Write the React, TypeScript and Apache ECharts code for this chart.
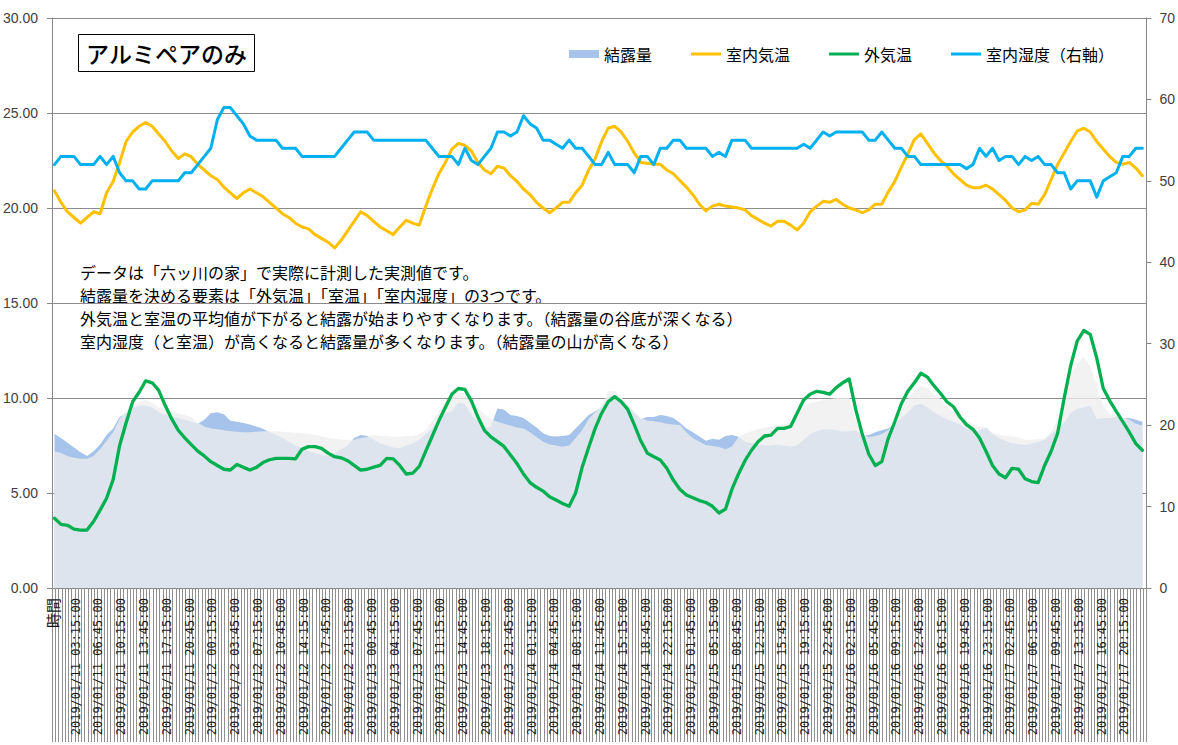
import React, { useEffect, useRef } from "react";
import * as echarts from "echarts";

// ---- categories (header cell + 15-minute timestamps, 2019/01/11 00:00 – 2019/01/17 23:30)
const pad = (n: number) => (n < 10 ? "0" + n : "" + n);
const categories: string[] = ["時間"];
for (let i = 0; i < 671; i++) {
  const day = 11 + Math.floor(i / 96);
  const mins = (i % 96) * 15;
  categories.push(`2019/01/${pad(day)} ${pad(Math.floor(mins / 60))}:${pad(mins % 60)}:00`);
}

// ---- hourly readings (one value per hour, starting 2019/01/11 00:00)
const indoorHumidity = [
  52, 53, 53, 53, 52, 52, 52, 53, 52, 53,
  51, 50, 50, 49, 49, 50, 50, 50, 50, 50,
  51, 51, 52, 53, 54, 57.5, 59, 59, 58, 57,
  55.5, 55, 55, 55, 55, 54, 54, 54, 53, 53,
  53, 53, 53, 53, 54, 55, 56, 56, 56, 55,
  55, 55, 55, 55, 55, 55, 55, 55, 54, 53,
  53, 53, 52, 54, 52.5, 52, 53, 54, 56, 56,
  55.5, 56, 58, 57, 56.5, 55, 55, 54.5, 54, 55,
  54, 54, 53, 52, 52, 53.5, 52, 52, 52, 51,
  53, 53, 52, 54, 54, 55, 55, 54, 54, 54,
  54, 53, 53.5, 53, 55, 55, 55, 54, 54, 54,
  54, 54, 54, 54, 54, 54.5, 54, 55, 56, 55.5,
  56, 56, 56, 56, 56, 55, 55, 56, 55, 54,
  54, 53, 53, 52, 52, 52, 52, 52, 52, 52,
  51.5, 52, 54, 53, 54, 52.5, 53, 53, 52, 53,
  52.5, 53, 52, 52, 51, 51, 49, 50, 50, 50,
  48, 50, 50.5, 51, 53, 53, 54, 54,
];

const indoorTemp = [
  20.9, 20.3, 19.8, 19.5, 19.2, 19.5, 19.8, 19.7, 20.8, 21.4,
  22.4, 23.5, 24.0, 24.3, 24.5, 24.3, 23.9, 23.5, 23.0, 22.6,
  22.85, 22.7, 22.3, 22.0, 21.7, 21.5, 21.1, 20.8, 20.5, 20.8,
  21.0, 20.8, 20.6, 20.3, 20.0, 19.7, 19.5, 19.2, 19.0, 18.9,
  18.6, 18.4, 18.2, 17.9, 18.3, 18.8, 19.3, 19.8, 19.6, 19.3,
  19.0, 18.8, 18.6, 19.0, 19.35, 19.2, 19.1, 20.1, 21.0, 21.8,
  22.4, 23.1, 23.4, 23.3, 23.0, 22.4, 22.0, 21.8, 22.2, 22.1,
  21.7, 21.4, 21.0, 20.7, 20.3, 20.0, 19.75, 20.0, 20.3, 20.3,
  20.8, 21.2, 22.0, 22.6, 23.5, 24.2, 24.3, 24.0, 23.5, 22.9,
  22.4, 22.35, 22.3, 22.3, 22.0, 21.8, 21.45, 21.1, 20.7, 20.2,
  19.85, 20.1, 20.2, 20.1, 20.05, 20.0, 19.9, 19.6, 19.4, 19.2,
  19.05, 19.3, 19.3, 19.1, 18.85, 19.2, 19.8, 20.1, 20.35, 20.3,
  20.45, 20.2, 20.0, 19.9, 19.75, 19.9, 20.2, 20.2, 20.85, 21.4,
  22.15, 22.85, 23.6, 23.9, 23.4, 22.9, 22.5, 22.2, 21.8, 21.5,
  21.2, 21.07, 21.07, 21.2, 21.0, 20.7, 20.4, 20.0, 19.8, 19.9,
  20.25, 20.2, 20.7, 21.5, 22.3, 22.9, 23.5, 24.05, 24.2, 24.0,
  23.5, 23.1, 22.7, 22.4, 22.3, 22.4, 22.1, 21.7,
];

const outdoorTemp = [
  3.67, 3.35, 3.3, 3.1, 3.05, 3.05, 3.5, 4.1, 4.72, 5.7,
  7.5, 8.7, 9.8, 10.3, 10.9, 10.8, 10.4, 9.6, 8.9, 8.3,
  7.9, 7.55, 7.2, 6.95, 6.65, 6.45, 6.25, 6.21, 6.5, 6.35,
  6.21, 6.35, 6.6, 6.75, 6.82, 6.82, 6.82, 6.8, 7.3, 7.44,
  7.44, 7.35, 7.1, 6.91, 6.85, 6.7, 6.45, 6.2, 6.25, 6.36,
  6.45, 6.82, 6.8, 6.45, 6.0, 6.05, 6.4, 7.2, 8.0, 8.8,
  9.5, 10.2, 10.5, 10.45, 9.85, 9.0, 8.3, 7.95, 7.7, 7.45,
  7.0, 6.55, 6.0, 5.55, 5.3, 5.1, 4.8, 4.63, 4.45, 4.3,
  5.0, 6.35, 7.4, 8.4, 9.2, 9.8, 10.07, 9.8, 9.4, 8.6,
  7.75, 7.1, 6.91, 6.74, 6.3, 5.68, 5.2, 4.9, 4.75, 4.6,
  4.5, 4.3, 3.95, 4.15, 5.2, 6.0, 6.7, 7.25, 7.7, 8.0,
  8.05, 8.4, 8.4, 8.5, 9.2, 9.89, 10.2, 10.35, 10.3, 10.2,
  10.55, 10.8, 11.0, 9.4, 8.1, 7.05, 6.45, 6.65, 7.88, 8.75,
  9.7, 10.35, 10.8, 11.3, 11.1, 10.65, 10.25, 9.8, 9.54, 9.0,
  8.6, 8.35, 7.9, 7.2, 6.45, 6.0, 5.8, 6.3, 6.25, 5.75,
  5.6, 5.55, 6.45, 7.2, 8.15, 10.0, 11.7, 13.0, 13.55, 13.35,
  12.1, 10.5, 9.85, 9.3, 8.75, 8.2, 7.6, 7.25,
];

const condensation = [
  8.1, 7.9, 7.65, 7.4, 7.15, 6.95, 7.2, 7.55, 8.05, 8.4,
  9.0, 9.2, 9.45, 9.6, 9.6, 9.5, 9.25, 9.1, 9.0, 8.95,
  8.85, 8.75, 8.65, 8.85, 9.2, 9.25, 9.15, 8.8, 8.75, 8.68,
  8.6, 8.5, 8.38, 8.2, 8.05, 7.9, 7.7, 7.5, 7.35, 7.2,
  7.1, 7.0, 6.95, 7.1, 7.3, 7.5, 7.9, 8.05, 8.0, 7.8,
  7.6, 7.5, 7.4, 7.35, 7.5, 7.6, 7.8, 8.1, 8.4, 8.9,
  9.2, 9.3, 9.75, 9.7, 9.1, 8.75, 8.4, 8.5, 9.45, 9.4,
  9.1, 9.05, 8.95, 8.7, 8.45, 8.15, 8.0, 7.97, 8.0, 8.05,
  8.4, 8.75, 9.1, 9.3, 9.5, 10.05, 10.15, 9.95, 9.6, 9.2,
  8.9, 9.0, 9.0, 9.1, 9.05, 8.95, 8.7, 8.4, 8.2, 7.97,
  7.75, 7.85, 7.8, 8.0, 8.05, 7.96, 7.7, 7.6, 7.55, 7.5,
  7.5, 7.55, 7.5, 7.45, 7.5, 7.8, 8.1, 8.25, 8.35, 8.35,
  8.3, 8.25, 8.25, 8.3, 8.0, 8.05, 8.2, 8.3, 8.4, 8.6,
  8.95, 9.25, 9.6, 9.7, 9.5, 9.25, 9.05, 8.9, 8.75, 8.6,
  8.4, 8.25, 8.3, 8.45, 8.1, 7.9, 7.75, 7.62, 7.58, 7.53,
  7.6, 7.68, 7.8, 8.1, 8.35, 8.7, 9.2, 9.45, 9.5, 9.6,
  8.9, 8.95, 8.95, 9.0, 8.95, 8.95, 8.85, 8.75,
];

// second (unlabelled) translucent area drawn over 結露量
const overlayArea = [
  7.2, 7.1, 6.95, 6.85, 6.8, 6.8, 6.95, 7.3, 7.75, 8.2,
  8.9, 9.35, 9.6, 9.8, 9.9, 9.75, 9.5, 9.4, 9.3, 9.2,
  9.1, 9.0, 8.7, 8.5, 8.4, 8.35, 8.3, 8.25, 8.22, 8.2,
  8.2, 8.22, 8.25, 8.25, 8.25, 8.22, 8.2, 8.17, 8.14, 8.1,
  8.05, 8.0, 7.9, 7.85, 7.8, 7.8, 7.8, 7.9, 7.95, 8.05,
  8.0, 8.0, 7.95, 7.95, 8.0, 8.0, 8.1, 8.3, 8.8, 9.3,
  9.8, 10.1, 10.3, 10.25, 9.75, 9.5, 9.15, 8.9, 8.75, 8.65,
  8.55, 8.45, 8.4, 8.2, 7.95, 7.7, 7.55, 7.5, 7.44, 7.5,
  7.9, 8.3, 8.9, 9.25, 9.6, 10.35, 10.4, 10.05, 9.7, 9.3,
  8.95, 8.82, 8.78, 8.72, 8.65, 8.6, 8.58, 8.2, 7.88, 7.7,
  7.53, 7.48, 7.42, 7.3, 7.45, 7.95, 8.15, 8.25, 8.35, 8.45,
  8.5, 8.55, 8.6, 8.7, 9.0, 9.5, 9.75, 9.8, 9.9, 9.95,
  10.0, 10.05, 10.0, 8.9, 8.05, 7.95, 8.0, 8.1, 8.3, 8.65,
  9.3, 9.95, 10.4, 10.65, 10.5, 10.2, 9.95, 9.55, 9.25, 9.0,
  8.8, 8.65, 8.5, 8.42, 8.2, 8.07, 8.0, 7.97, 7.92, 7.8,
  7.8, 7.83, 7.85, 8.2, 8.9, 10.1, 11.2, 11.8, 12.15, 11.7,
  10.6, 9.6, 9.15, 9.05, 9.0, 8.85, 8.65, 8.55,
];

const leftTicks = { min: 0, max: 30, interval: 5 };
const rightTicks = { min: 0, max: 70, interval: 10 };

const noteLines = [
  "データは「六ッ川の家」で実際に計測した実測値です。",
  "結露量を決める要素は「外気温」「室温」「室内湿度」の3つです。",
  "外気温と室温の平均値が下がると結露が始まりやすくなります。（結露量の谷底が深くなる）",
  "室内湿度（と室温）が高くなると結露量が多くなります。（結露量の山が高くなる）",
];
const titleText = "アルミペアのみ";

// hour h -> category index (header occupies index 0, 4 readings per hour)
const toPoints = (arr: number[]) => arr.map((v, h) => [1 + h * 4, v]);

const JP = "Noto Sans CJK JP";

export default function App() {
  const ref = useRef<HTMLDivElement>(null);
  useEffect(() => {
    if (!ref.current) return;
    const chart = echarts.init(ref.current, undefined, { renderer: "svg" });
    const axisGray = "#868686";
    const lineIcon = "path://M0,0H30V3H0Z";
    const option: any = {
      animation: false,
      backgroundColor: "#ffffff",
      grid: { left: 52, right: 30, top: 18, bottom: 157, containLabel: false },
      legend: {
        top: 41,
        left: 564,
        itemWidth: 30,
        itemHeight: 8,
        itemGap: 39,
        symbolKeepAspect: true,
        textStyle: { fontFamily: JP, fontSize: 16, color: "#000" },
        data: [
          { name: "結露量", icon: "rect", itemStyle: { color: "#A6C3EB" } },
          { name: "室内気温", icon: lineIcon, itemStyle: { color: "#FFC000" } },
          { name: "外気温", icon: lineIcon, itemStyle: { color: "#00B050" } },
          { name: "室内湿度（右軸）", icon: lineIcon, itemStyle: { color: "#00B0F0" } },
        ],
      },
      xAxis: {
        type: "category",
        data: categories,
        boundaryGap: true,
        axisLine: { show: true, lineStyle: { color: axisGray, width: 1 } },
        axisTick: { show: true, interval: 1, length: 154, lineStyle: { color: "#8f8f8f", width: 1 } },
        axisLabel: {
          interval: 13,
          rotate: 90,
          margin: 10,
          fontFamily: "DejaVu Sans Mono",
          fontSize: 12,
          color: "#1a1a1a",
          formatter: (v: string) => (v === "時間" ? "{h|時間}" : v),
          rich: { h: { fontFamily: JP, fontSize: 15, color: "#1a1a1a" } },
        },
        splitLine: { show: false },
      },
      yAxis: [
        {
          type: "value",
          position: "left",
          ...leftTicks,
          axisLine: { show: true, lineStyle: { color: axisGray } },
          axisTick: { show: true, length: 5, lineStyle: { color: axisGray } },
          axisLabel: {
            margin: 14,
            fontFamily: "Liberation Sans",
            fontSize: 14,
            color: "#404040",
            formatter: (v: number) => v.toFixed(2),
          },
          splitLine: { show: true, lineStyle: { color: "#8c8c8c", width: 1 } },
        },
        {
          type: "value",
          position: "right",
          ...rightTicks,
          axisLine: { show: true, lineStyle: { color: axisGray } },
          axisTick: { show: true, length: 5, lineStyle: { color: axisGray } },
          axisLabel: { margin: 13, fontFamily: "Liberation Sans", fontSize: 14, color: "#404040" },
          splitLine: { show: false },
        },
      ],
      series: [
        {
          name: "結露量",
          type: "line",
          data: toPoints(condensation),
          symbol: "none",
          itemStyle: { color: "#A6C3EB" },
          lineStyle: { width: 0, opacity: 0 },
          areaStyle: { color: "#A6C3EB", opacity: 1 },
        },
        {
          name: "overlay",
          type: "line",
          data: toPoints(overlayArea),
          symbol: "none",
          itemStyle: { color: "#EEEEEE" },
          lineStyle: { width: 0, opacity: 0 },
          areaStyle: { color: "#EEEEEE", opacity: 0.77 },
        },
        {
          name: "室内気温",
          type: "line",
          data: toPoints(indoorTemp),
          symbol: "none",
          itemStyle: { color: "#FFC000" },
          lineStyle: { color: "#FFC000", width: 3, cap: "round", join: "round" },
        },
        {
          name: "外気温",
          type: "line",
          data: toPoints(outdoorTemp),
          symbol: "none",
          itemStyle: { color: "#00B050" },
          lineStyle: { color: "#00B050", width: 3.3, cap: "round", join: "round" },
        },
        {
          name: "室内湿度（右軸）",
          type: "line",
          yAxisIndex: 1,
          data: toPoints(indoorHumidity),
          symbol: "none",
          itemStyle: { color: "#00B0F0" },
          lineStyle: { color: "#00B0F0", width: 3, cap: "round", join: "round" },
        },
      ],
      graphic: [
        {
          type: "group",
          z: 100,
          children: [
            { type: "rect", shape: { x: 70, y: 258, width: 700, height: 94 }, style: { fill: "#ffffff" } },
            ...noteLines.map((t, i) => ({
              type: "text",
              style: {
                text: t,
                x: 80,
                y: 272 + i * 23,
                fill: "#000",
                font: `16px "${JP}"`,
                textVerticalAlign: "middle",
              },
            })),
            {
              type: "rect",
              shape: { x: 78.5, y: 34.5, width: 176, height: 37 },
              style: { fill: "#ffffff", stroke: "#000", lineWidth: 1 },
            },
            {
              type: "text",
              style: {
                text: titleText,
                x: 166.5,
                y: 53,
                fill: "#000",
                font: `500 23px "${JP}"`,
                textAlign: "center",
                textVerticalAlign: "middle",
              },
            },
          ],
        },
      ],
    };
    chart.setOption(option);
    return () => chart.dispose();
  }, []);
  return (
    <div
      ref={ref}
      style={{ position: "fixed", left: 0, top: 0, width: 1178, height: 745, background: "#fff" }}
    />
  );
}
